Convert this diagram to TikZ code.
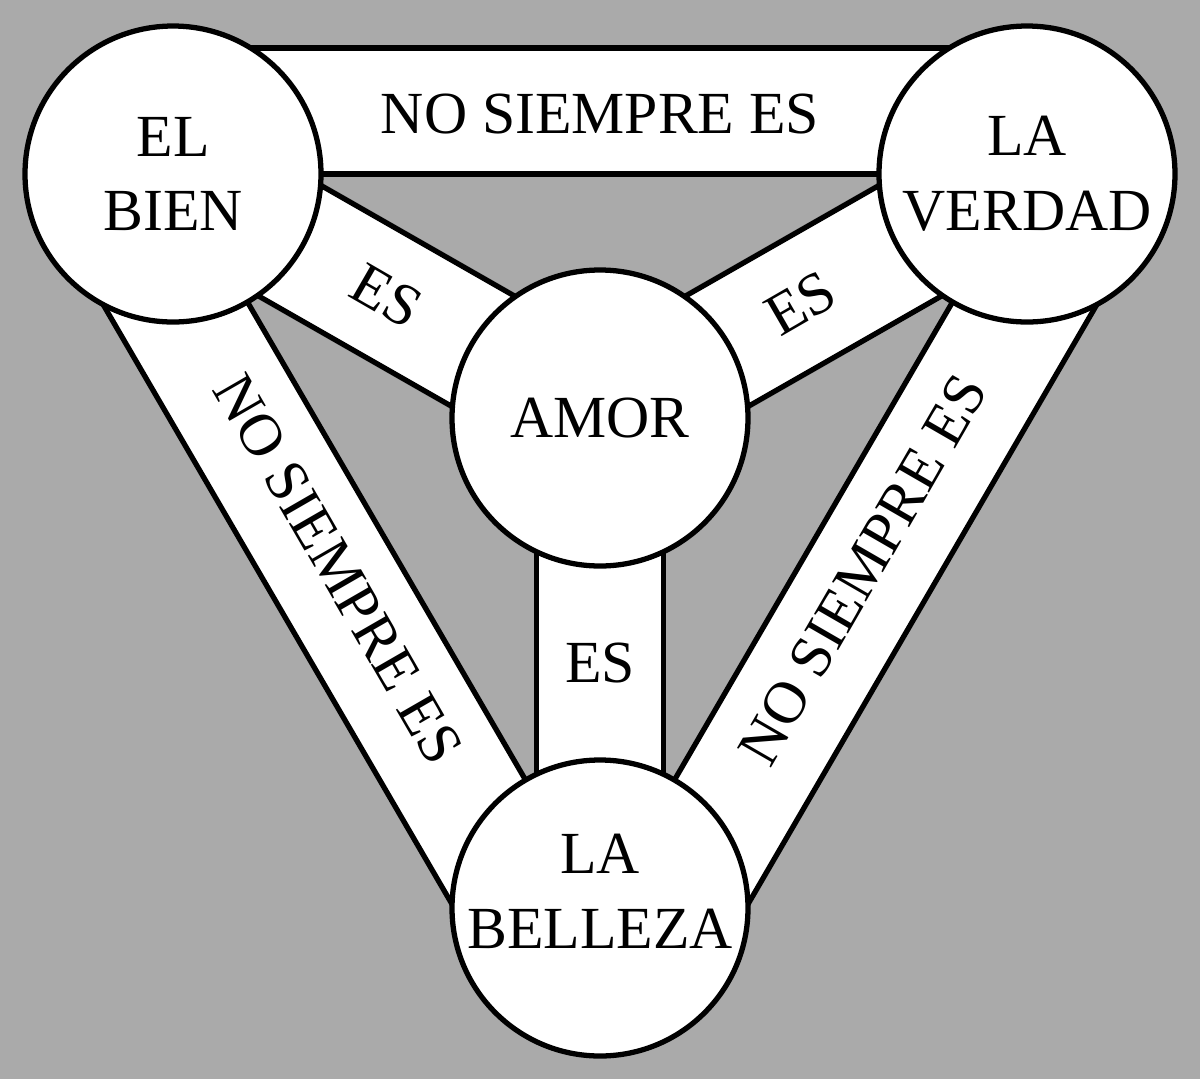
\documentclass[tikz,border=0pt]{standalone}
\usepackage{fontspec}
\setmainfont{Liberation Serif}
\usepackage{tikz}
\usetikzlibrary{calc}
\definecolor{backGray}{RGB}{170,170,170}

\begin{document}
\begin{tikzpicture}[
Band/.style={draw=black,fill=white,line width=1.5pt},
Disc/.style={circle,draw=black,fill=white,line width=1.5pt,minimum size=2.96cm,inner sep=0pt,
  font=\fontsize{17}{21.3}\selectfont,align=center},
Words/.style={font=\fontsize{17}{21.3}\selectfont,align=center,inner sep=0pt}
]
\useasboundingbox (0,0) rectangle (12,-10.79);
\fill[backGray] (0,0) rectangle (12,-10.79);

% centres of the four circles
\pgfmathparse{1.73}		\let\Xb\pgfmathresult
\pgfmathparse{-1.74}		\let\Yb\pgfmathresult
\coordinate (B) at (\Xb,\Yb);

\pgfmathparse{10.27}		\let\Xv\pgfmathresult
\pgfmathparse{-1.74}		\let\Yv\pgfmathresult
\coordinate (V) at (\Xv,\Yv);

\pgfmathparse{6}		\let\Xa\pgfmathresult
\pgfmathparse{-4.18}		\let\Ya\pgfmathresult
\coordinate (A) at (\Xa,\Ya);

\pgfmathparse{6}		\let\Xl\pgfmathresult
\pgfmathparse{-9.08}		\let\Yl\pgfmathresult
\coordinate (L) at (\Xl,\Yl);

% widths of the bands
\pgfmathparse{1.26}		\let\Wout\pgfmathresult
\pgfmathparse{0.635}		\let\Win\pgfmathresult

% outer bands, pushed outwards
\draw[Band] (B) -- (V) -- ($(V)!\Wout cm!-90:(B)$) -- ($(B)!\Wout cm!90:(V)$) -- cycle;
\draw[Band] (V) -- (L) -- ($(L)!\Wout cm!-90:(V)$) -- ($(V)!\Wout cm!90:(L)$) -- cycle;
\draw[Band] (L) -- (B) -- ($(B)!\Wout cm!-90:(L)$) -- ($(L)!\Wout cm!90:(B)$) -- cycle;

% inner bands, to the centre
\draw[Band] ($(A)!\Win cm!90:(B)$) -- ($(B)!\Win cm!-90:(A)$) -- ($(B)!\Win cm!90:(A)$) -- ($(A)!\Win cm!-90:(B)$) -- cycle;
\draw[Band] ($(A)!\Win cm!90:(V)$) -- ($(V)!\Win cm!-90:(A)$) -- ($(V)!\Win cm!90:(A)$) -- ($(A)!\Win cm!-90:(V)$) -- cycle;
\draw[Band] ($(A)!\Win cm!90:(L)$) -- ($(L)!\Win cm!-90:(A)$) -- ($(L)!\Win cm!90:(A)$) -- ($(A)!\Win cm!-90:(L)$) -- cycle;

% band labels
\coordinate (mBV) at ($(B)!0.5!(V)$);
\coordinate (mVL) at ($(V)!0.5!(L)$);
\coordinate (mLB) at ($(L)!0.5!(B)$);
\node[Words] (noBV) at ($(mBV)!0.6cm!90:(V)$) {NO SIEMPRE ES};
\node[Words,rotate=60] (noVL) at ($(mVL)!0.57cm!90:(L)$) {NO SIEMPRE ES};
\node[Words,rotate=-60] (noLB) at ($(mLB)!0.56cm!90:(B)$) {NO SIEMPRE ES};

\node[Words,rotate=-30] (esB) at ($(B)!0.5!(A)$) {ES};
\node[Words,rotate=30] (esV) at ($(V)!0.53!(A)$) {ES};
\node[Words] (esL) at ($(A)!0.5!(L)$) {ES};

% circles
\node[Disc] (bien) at (B) {EL\\BIEN};
\node[Disc] (verdad) at (V) {LA\\VERDAD};
\node[Disc] (amor) at (A) {AMOR};
\node[Disc] (belleza) at (L) {};
\node[Words] (bellezaTxt) at ([yshift=0.17cm]belleza.center) {LA\\BELLEZA};

\end{tikzpicture}
\end{document}
